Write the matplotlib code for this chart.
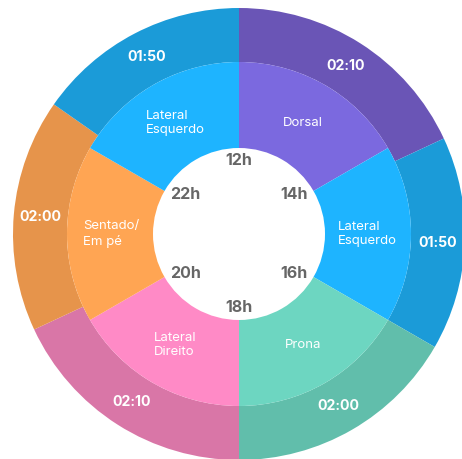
import matplotlib
matplotlib.use('Agg')
import matplotlib.pyplot as plt
import numpy as np

plt.rcParams['font.family'] = ['Inter', 'DejaVu Sans']

# posições (faixas de 2h, a partir das 12h)
positions = ['Dorsal', 'Lateral\nEsquerdo', 'Prona', 'Lateral\nDireito',
             'Sentado/\nEm pé', 'Lateral\nEsquerdo']
slot_hours = [2, 2, 2, 2, 2, 2]
hour_labels = ['12h', '14h', '16h', '18h', '20h', '22h']

# duração real de cada posição (minutos)
durations_min = [130, 110, 120, 130, 120, 110]
duration_labels = ['02:10', '01:50', '02:00', '02:10', '02:00', '01:50']

inner_colors = ['#7B69DF', '#1EB4FF', '#6DD6C1', '#FF8AC6', '#FFA553', '#1EB4FF']
outer_colors = ['#6A55B6', '#1B9BD8', '#61BEAB', '#D976A7', '#E6944B', '#1B9BD8']

R_OUT, R_MID, R_HOLE = 226, 172, 86

fig = plt.figure(figsize=(4.62, 4.59), dpi=100)
ax = fig.add_axes([0, 0, 1, 1])

ax.pie(durations_min, radius=R_OUT, colors=outer_colors, startangle=90,
       counterclock=False, wedgeprops=dict(width=R_OUT - R_MID, linewidth=0))
ax.pie(slot_hours, radius=R_MID, colors=inner_colors, startangle=90,
       counterclock=False, wedgeprops=dict(width=R_MID - R_HOLE, linewidth=0))

# rótulos do anel externo (durações)
edges = 90 - 360 * np.concatenate([[0], np.cumsum(durations_min)]) / sum(durations_min)
for i, lab in enumerate(duration_labels):
    a = np.deg2rad((edges[i] + edges[i + 1]) / 2)
    r = (R_OUT + R_MID) / 2
    ax.text(r * np.cos(a), r * np.sin(a), lab, color='white', fontsize=10.2,
            fontweight='bold', ha='center', va='center')

# rótulos do anel interno (posições)
edges_in = 90 - 360 * np.concatenate([[0], np.cumsum(slot_hours)]) / sum(slot_hours)
for i, lab in enumerate(positions):
    a = np.deg2rad((edges_in[i] + edges_in[i + 1]) / 2)
    r = 128
    ax.text(r * np.cos(a), r * np.sin(a), lab, color='white', fontsize=9.5,
            ha='center', va='center', multialignment='left', linespacing=1.3)

# horas no centro
for i, lab in enumerate(hour_labels):
    ang = edges_in[i]
    a = np.deg2rad(ang)
    c, s = np.cos(a), np.sin(a)
    if abs(c) < 0.1:
        r = 81
        ha, va = 'center', ('top' if s > 0 else 'bottom')
    else:
        r = 79
        ha, va = ('right' if c > 0 else 'left'), 'center'
    ax.text(r * c, r * s, lab, color='#666666', fontsize=11.5,
            fontweight='bold', ha=ha, va=va)

ax.set_xlim(-239, 462 - 239)
ax.set_ylim(-(459 - 234), 234)
ax.set_aspect('equal')
ax.axis('off')

fig.savefig('out.png', dpi=100, facecolor='white')
